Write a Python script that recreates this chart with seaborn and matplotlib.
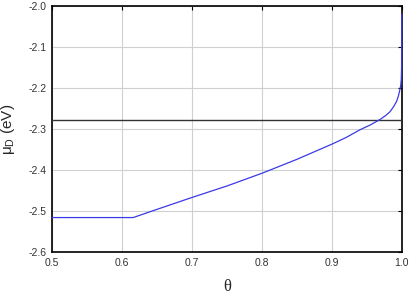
import matplotlib
matplotlib.use("Agg")
import matplotlib.pyplot as plt
import seaborn as sns
import pandas as pd

theta = [0.5, 0.616, 0.65, 0.7, 0.75, 0.8, 0.85, 0.9, 0.92, 0.94, 0.955, 0.9686,
         0.977, 0.983, 0.988, 0.9924, 0.995, 0.9971, 0.9985, 0.9992, 0.9996, 0.9998]
mu_d = [-2.516, -2.516, -2.496, -2.467, -2.439, -2.408, -2.374, -2.337, -2.321,
        -2.302, -2.290, -2.277, -2.267, -2.258, -2.246, -2.233, -2.220, -2.205,
        -2.192, -2.178, -2.150, -2.020]
ref_level = -2.278
xticks = [0.5, 0.6, 0.7, 0.8, 0.9, 1.0]
yticks = [-2.6, -2.5, -2.4, -2.3, -2.2, -2.1, -2.0]

sns.set_theme(style="whitegrid")
plt.rcParams['font.family'] = ['Liberation Sans', 'DejaVu Sans']

fig = plt.figure(figsize=(4.16, 3.0), dpi=100)
ax = fig.add_axes([0.125, 0.16, 0.841, 0.82])

df = pd.DataFrame({"theta": theta, "mu": mu_d})
sns.lineplot(data=df, x="theta", y="mu", ax=ax, sort=False, color="#3a3ae6",
             linewidth=0.9, zorder=4, clip_on=False)
ax.axhline(ref_level, color="#333333", linewidth=1.0, zorder=3)

ax.set_xlim(0.5, 1.0)
ax.set_ylim(-2.6, -2.0)
ax.set_xticks(xticks)
ax.set_yticks(yticks)
ax.set_xticklabels([f"{v:.1f}" for v in xticks])
ax.set_yticklabels([f"{v:.1f}" for v in yticks])
ax.grid(True, color="#d0d0d0", linewidth=0.8)
for s in ax.spines.values():
    s.set_color("black")
    s.set_linewidth(1.2)
ax.tick_params(direction="in", length=3, width=0.8, color="black", labelsize=7.5,
               labelcolor="#333333", top=True, right=True, pad=4)
ax.set_xlabel("θ", family=["Liberation Serif", "DejaVu Serif"], fontsize=12, labelpad=8)
ax.set_ylabel(r"$\mathregular{\mu_D}$ (eV)", fontsize=11, labelpad=8)

fig.savefig("out.png", dpi=100)
